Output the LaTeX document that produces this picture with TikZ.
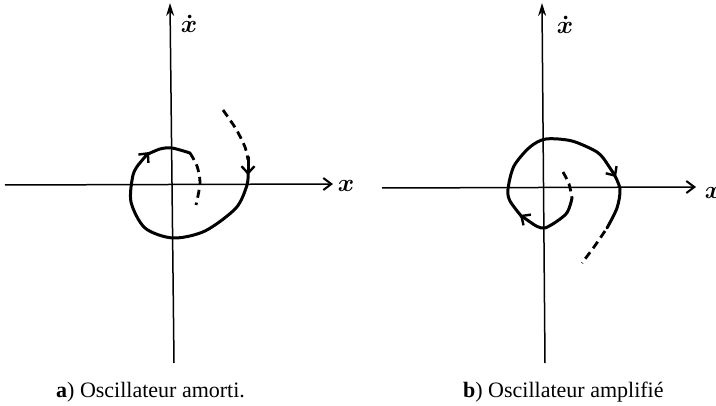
\documentclass[tikz,border=0pt]{standalone}
\usepackage{fontspec}
\setmainfont{Liberation Serif}
\usetikzlibrary{arrows.meta}
\begin{document}
\begin{tikzpicture}[x=1pt,y=-1pt,
  axis/.style={line width=1.5pt},
  htip/.style={-{Straight Barb[length=8pt,width=12pt,line width=2pt]}},
  vtip/.style={-{Stealth[length=13pt,width=8pt]}},
  traj/.style={line width=3pt, line cap=round, line join=round},
  dtraj/.style={line width=2.8pt, dash pattern=on 8pt off 5pt},
  tip/.style={-{Straight Barb[length=7pt,width=13pt,line width=2.4pt]}},
  lab/.style={font=\fontsize{26}{26}\selectfont\boldmath, inner sep=0pt, anchor=base},
  captext/.style={font=\fontsize{22}{26}\selectfont, anchor=base west, inner sep=0pt}]
\useasboundingbox (0,0) rectangle (716,406);

% ---------- panel a ----------
\coordinate (aL) at (5,185);
\coordinate (aR) at (333,184);
\coordinate (aB) at (174,363);
\coordinate (aT) at (170,3);
\draw[axis,htip] (aL) -- (aR);
\draw[axis,vtip] (aB) -- (aT);
\node[lab] (ax) at (346,192) {$x$};
\node[lab] (axd) at (189,33) {$\dot x$};

% outer dashed approach
\draw[dtraj] plot[smooth] coordinates {(223,110) (236,129) (245,147) (248,160)};
\draw[traj,tip] (248,157) -- (248,175);
% solid loop
\draw[traj] plot[smooth] coordinates {(248,172) (247,185) (236,208) (205,231) (173,238) (145,228) (131,202) (133,175) (139,164)};
\draw[traj,tip] (139,164) -- (149,152);
\draw[traj] plot[smooth] coordinates {(146,155) (160,149) (172,148) (190,153)};
% inner dashed end
\draw[dtraj] plot[smooth] coordinates {(190,153) (197,166) (200,183) (196,205)};

\node[captext] (capa) at (56,398) {\textbf{a}) Oscillateur amorti.};

% ---------- panel b ----------
\coordinate (bL) at (382,188);
\coordinate (bR) at (696,187);
\coordinate (bB) at (545,363);
\coordinate (bT) at (542,3);
\draw[axis,htip] (bL) -- (bR);
\draw[axis,vtip] (bB) -- (bT);
\node[lab] (bx) at (713,199) {$x$};
\node[lab] (bxd) at (565,34) {$\dot x$};

% inner dashed start
\draw[dtraj] plot[smooth] coordinates {(563,172) (569,184) (572,198)};
% solid loop
\draw[traj] plot[smooth] coordinates {(572,198) (566,214) (545,228) (533,224)};
\draw[traj,tip] (533,224) -- (520,215);
\draw[traj] plot[smooth] coordinates {(522,217) (510,201) (508,189) (514,166) (530,147) (546,139) (572,141) (597,152) (606,162)};
\draw[traj,tip] (606,162) -- (616,177);
\draw[traj] plot[smooth] coordinates {(614,174) (620,189) (617,208) (607,228)};
% outer dashed end
\draw[dtraj] plot[smooth] coordinates {(605,231) (594,247) (582,263)};

\node[captext] (capb) at (463,398) {\textbf{b}) Oscillateur amplifié};
\end{tikzpicture}
\end{document}
